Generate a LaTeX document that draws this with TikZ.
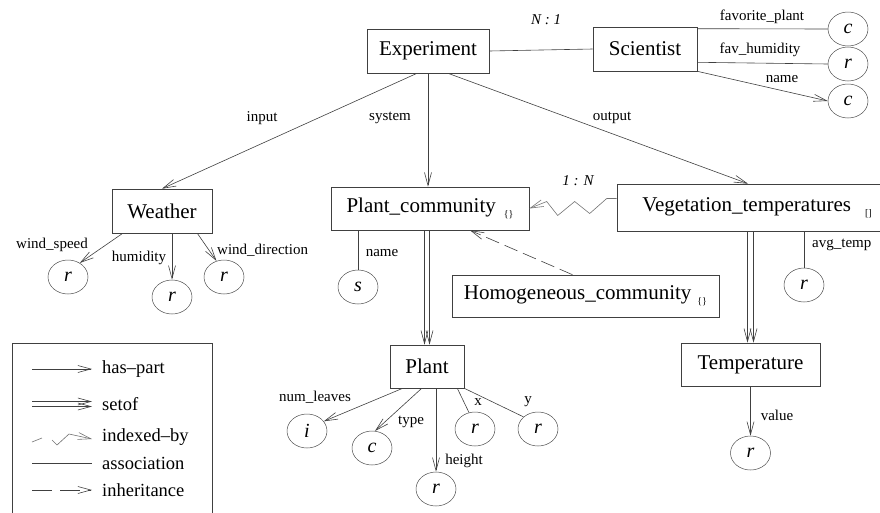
\documentclass[tikz,border=0pt]{standalone}
\usepackage{fontspec}
\setmainfont{Liberation Serif}
\usetikzlibrary{arrows.meta,shapes.geometric,calc}
\begin{document}
\begin{tikzpicture}[x=1pt,y=-1pt,
  ent/.style={draw=black!75, line width=0.6pt, rectangle, inner sep=0pt, font=\fontsize{21}{24}\selectfont},
  att/.style={draw=black!70, line width=0.5pt, ellipse, minimum width=40pt, minimum height=34pt, inner sep=0pt, font=\fontsize{20}{22}\selectfont\itshape},
  lbl/.style={font=\fontsize{15}{17}\selectfont, inner sep=0pt},
  leg/.style={font=\fontsize{18.5}{20}\selectfont, anchor=west, inner sep=0pt},
  conn/.style={draw=black!75, line width=0.6pt},
  haspart/.style={conn, -{Straight Barb[length=13pt,width=7pt]}},
  inherit/.style={haspart, dash pattern=on 14pt off 6pt},
  brk/.style={font=\fontsize{10}{10}\selectfont}
]
\useasboundingbox (0,0) rectangle (880,512);
\clip (0,0) rectangle (880,512);

% entities
\node[ent, minimum width=122pt, minimum height=44pt] (exp) at (428,51) {Experiment};
\node[ent, minimum width=104pt, minimum height=44pt] (sci) at (645,49) {Scientist};
\node[ent, minimum width=100pt, minimum height=44pt] (weather) at (162,211) {Weather};
\node[ent, minimum width=198pt, minimum height=43pt] (pc) at (430,208.5) {Plant\_community\hspace{8pt}\raisebox{-5pt}{\fontsize{10}{10}\selectfont\{\}}};
\node[ent, minimum width=280pt, minimum height=47pt] (veg) at (757,207.5) {Vegetation\_temperatures\hspace{14pt}\raisebox{-5pt}{\fontsize{10}{10}\selectfont[]}\hspace{22pt}};
\node[ent, minimum width=267pt, minimum height=42pt] (homog) at (585.5,296) {Homogeneous\_community\hspace{6pt}\raisebox{-5pt}{\fontsize{10}{10}\selectfont\{\}}};
\node[ent, minimum width=74pt, minimum height=43pt] (plant) at (427,366.5) {Plant};
\node[ent, minimum width=139pt, minimum height=43pt] (temp) at (750.5,364.5) {Temperature};

% attribute circles
\node[att] (c1) at (848,29) {c};
\node[att] (c2) at (848,64) {r};
\node[att] (c3) at (848,101) {c};
\node[att] (ws) at (68,277) {r};
\node[att] (hum) at (172,297) {r};
\node[att] (wd) at (224,277) {r};
\node[att] (s) at (358,287) {s};
\node[att] (avg) at (804,285) {r};
\node[att] (i) at (307,431) {i};
\node[att] (cc) at (372,448) {c};
\node[att] (hr) at (436,489) {r};
\node[att] (xr) at (475,429) {r};
\node[att] (yr) at (538,429) {r};
\node[att] (val) at (750.5,453) {r};

% Experiment / Scientist
\draw[haspart] ([xshift=-11pt]exp.south) -- (weather.north);
\draw[haspart] (exp.south) -- (exp.south |- pc.north);
\draw[haspart] ([xshift=20pt]exp.south) -- ([xshift=-9pt]veg.north);
\draw[conn] (exp.east) -- (sci.west);
\draw[conn] ([yshift=-2pt]sci.north east) -- (c1.west);
\draw[conn] ([yshift=9pt]sci.south east) -- (c2.west);
\draw[haspart] (sci.south east) -- (c3.west);

\node[lbl] (n1) at (546,20) {\itshape N : 1};
\node[lbl] (lfp) at (762,17) {favorite\_plant};
\node[lbl] (lfh) at (760,50) {fav\_humidity};
\node[lbl] (lnm) at (782,79) {name};
\node[lbl] (lin) at (262,118) {input};
\node[lbl] (lsy) at (390,118) {system};
\node[lbl] (lout) at (612,118) {output};

% Weather
\draw[haspart] ([xshift=11pt]weather.south west) -- (ws.50);
\draw[haspart] (hum.north |- weather.south) -- (hum.north);
\draw[haspart] ([xshift=-15pt]weather.south east) -- (wd.115);
\node[lbl] (lws) at (52,245) {wind\_speed};
\node[lbl] (lhum) at (139,258) {humidity};
\node[lbl, anchor=west] (lwd) at (217,250) {wind\_direction};

% Plant_community
\draw[conn] (s.north |- pc.south) -- (s.north);
\node[lbl] (lpcn) at (382,253) {name};
\draw[haspart] ($(plant.north |- pc.south)+(-2.5,0)$) -- ($(plant.north)+(-2.5,0)$);
\draw[haspart] ($(plant.north |- pc.south)+(2.5,0)$) -- ($(plant.north)+(2.5,0)$);
\draw[inherit] ([xshift=-13pt]homog.north) -- ([xshift=40pt]pc.south);
\draw[haspart, draw=black!55] ([yshift=9pt]veg.west) -- ++(-10,0) -- ++(-17,15) -- ++(-15,-12) -- ++(-17,14) -- ++(-11,-14) -- (pc.east);
\node[lbl] (l1n) at (578,181) {\itshape 1 : N};

% Vegetation_temperatures
\draw[haspart] ($(temp.north |- veg.south)+(-3,0)$) -- ($(temp.north)+(-3,0)$);
\draw[haspart] ($(temp.north |- veg.south)+(3,0)$) -- ($(temp.north)+(3,0)$);
\draw[conn] (avg.north |- veg.south) -- (avg.north);
\node[lbl, anchor=west] (lavg) at (812,245) {avg\_temp};
\draw[haspart] (temp.south) -- (val.north);
\node[lbl] (lval) at (777,415) {value};

% Plant
\draw[haspart] ([xshift=13pt]plant.south west) -- (i.30);
\draw[haspart] ([xshift=32pt]plant.south west) -- (cc.80);
\draw[haspart] (hr.north |- plant.south) -- (hr.north);
\draw[conn] ([xshift=-7pt]plant.south east) -- (xr.110);
\draw[conn] (plant.south east) -- (yr.140);
\node[lbl] (lnl) at (315,397) {num\_leaves};
\node[lbl] (lty) at (411,422) {type};
\node[lbl] (lhe) at (464,461) {height};
\node[lbl] (lx) at (478,402) {x};
\node[lbl] (ly) at (528,402) {y};

% legend
\draw[conn] (12,515) -- (12,343) -- (212,343) -- (212,515);
\node[leg] (g1) at (102,369) {has--part};
\node[leg] (g2) at (102,404) {setof};
\node[leg] (g3) at (102,437) {indexed--by};
\node[leg] (g4) at (102,463) {association};
\node[leg] (g5) at (102,490) {inheritance};
\draw[haspart] ($(g1.west)+(-70,0)$) -- ($(g1.west)+(-10,0)$);
\draw[haspart] ($(g2.west)+(-70,-2.5)$) -- ($(g2.west)+(-10,-2.5)$);
\draw[haspart] ($(g2.west)+(-70,2.5)$) -- ($(g2.west)+(-10,2.5)$);
\draw[conn, draw=black!55] ($(g3.west)+(-70,5)$) -- ++(10,-4);
\draw[haspart, draw=black!55] ($(g3.west)+(-50,3)$) -- ++(5,5) -- ++(12,-11) -- ($(g3.west)+(-10,2)$);
\draw[conn] ($(g4.west)+(-70,0)$) -- ($(g4.west)+(-10,0)$);
\draw[inherit, dash pattern=on 20pt off 8pt] ($(g5.west)+(-70,0)$) -- ($(g5.west)+(-10,0)$);
\end{tikzpicture}
\end{document}
